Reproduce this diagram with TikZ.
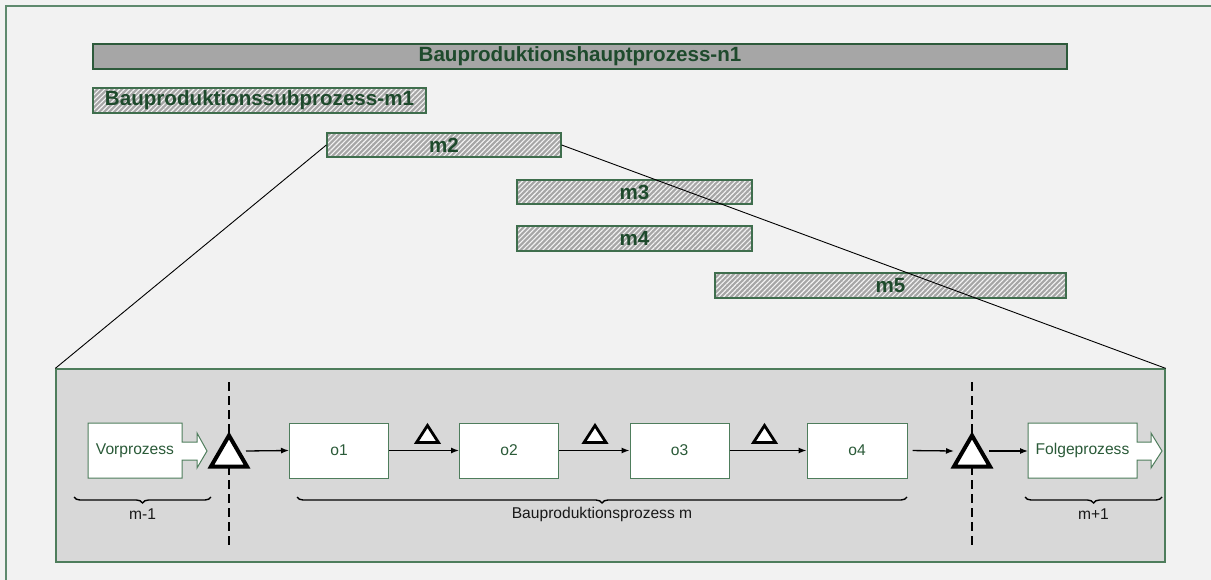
\documentclass[tikz,border=0pt]{standalone}
\usepackage{fontspec}
\setmainfont{Liberation Sans}
\usetikzlibrary{arrows.meta,patterns.meta,decorations.pathreplacing}

\definecolor{bgcol}{HTML}{F2F2F2}
\definecolor{framecol}{HTML}{5F8A6E}
\definecolor{darktxt}{HTML}{1E4A2C}
\definecolor{barline}{HTML}{2D5A3B}
\definecolor{hatchline}{HTML}{3F6E4D}
\definecolor{barfill}{HTML}{A6A6A6}
\definecolor{hatchcol}{HTML}{F4F4F4}
\definecolor{boxline}{HTML}{4E7D5C}
\definecolor{boxtxt}{HTML}{2A5A38}
\definecolor{panelfill}{HTML}{D8D8D8}

\tikzset{
  bartext/.style={font=\bfseries\fontsize{20.6}{24}\selectfont, text=darktxt},
  solidbar/.style={draw=barline, line width=1.4pt, fill=barfill, inner sep=0pt, bartext},
  hatchbar/.style={draw=hatchline, line width=1.3pt, inner sep=0pt,
    preaction={fill=barfill},
    pattern={Lines[angle=45,distance=3.5pt,line width=1.1pt]}, pattern color=hatchcol, bartext},
  proctext/.style={font=\fontsize{15.6}{18}\selectfont, text=boxtxt, inner sep=0pt},
  procbox/.style={draw=boxline, line width=1pt, fill=white, inner sep=0pt,
    minimum width=99, minimum height=55, proctext},
  outline/.style={draw=boxline, line width=1pt, fill=white, line join=miter},
  flow/.style={line width=1.3pt, -{Latex[length=8pt,width=6pt]}},
  bigtri/.style={draw=black, line width=4pt, fill=white, line join=miter},
  smalltri/.style={draw=black, line width=2.8pt, fill=white, line join=miter},
  trislot/.style={inner sep=0pt, outer sep=0pt},
  cutline/.style={line width=2.2pt, dash pattern=on 9pt off 5pt},
  bracepath/.style={line width=1.4pt, decorate,
    decoration={brace, mirror, amplitude=6pt}},
  bracelabel/.style={font=\fontsize{15.6}{18}\selectfont, text=black!90},
  zoomline/.style={line width=0.9pt, black},
}

\begin{document}
\begin{tikzpicture}[x=1pt,y=-1pt]
  % canvas and outer frame
  \useasboundingbox (0,0) rectangle (1211,580);
  \clip (0,0) rectangle (1211,580);
  \fill[bgcol] (0,0) rectangle (1211,580);
  \draw[framecol, line width=1.5pt] (6,6) rectangle (1240,610);

  % process hierarchy bars
  \node[solidbar, minimum width=974, minimum height=25] (main) at (580,56.5) {Bauproduktionshauptprozess-n1};
  \node[hatchbar, minimum width=333, minimum height=25] (m1) at (259.5,100.5) {Bauproduktionssubprozess-m1};
  \node[hatchbar, minimum width=234, minimum height=24] (m2) at (444,145) {m2};
  \node[hatchbar, minimum width=235, minimum height=24] (m3) at (634.5,192) {m3};
  \node[hatchbar, minimum width=235, minimum height=25] (m4) at (634.5,238.5) {m4};
  \node[hatchbar, minimum width=351, minimum height=25] (m5) at (890.5,285.5) {m5};

  % detail panel for m2
  \node[draw=boxline, line width=1.3pt, fill=panelfill, minimum width=1109, minimum height=193, inner sep=0pt] (panel) at (610.5,465.5) {};
  \draw[zoomline] (m2.west) -- (panel.north west);
  \draw[zoomline] (m2.east) -- (panel.north east);

  % process boundaries
  \coordinate (cutAtop) at (229,382);
  \coordinate (cutAbot) at (229,548);
  \coordinate (cutBtop) at (972,382);
  \coordinate (cutBbot) at (972,548);
  \draw[cutline] (cutAtop) -- (cutAbot);
  \draw[cutline] (cutBtop) -- (cutBbot);

  % preceding and following process (arrow-shaped boxes)
  \draw[outline] (88,423) -- (182,423) -- (182,442) -- (197,442) -- (197,433) -- (207,451)
    -- (197,468) -- (197,460) -- (182,460) -- (182,478) -- (88,478) -- cycle;
  \node[proctext] (vor) at (135,450.5) {Vorprozess};
  \draw[outline] (1028,423) -- (1137,423) -- (1137,442) -- (1151,442) -- (1151,433) -- (1162,451)
    -- (1151,468) -- (1151,460) -- (1137,460) -- (1137,478) -- (1028,478) -- cycle;
  \node[proctext] (folge) at (1082.5,450.5) {Folgeprozess};
  \coordinate (folgein) at (1028,451);

  % operations
  \node[procbox] (o1) at (339,450.5) {o1};
  \node[procbox] (o2) at (509,450.5) {o2};
  \node[procbox] (o3) at (679.5,450.5) {o3};
  \node[procbox, minimum width=100] (o4) at (857,450.5) {o4};

  % interfaces (large triangles)
  \node[trislot, minimum width=36, minimum height=31] (t1) at (229,451) {};
  \node[trislot, minimum width=36, minimum height=31] (t2) at (972,451) {};
  \draw[bigtri] (t1.south west) -- (t1.north) -- (t1.south east) -- cycle;
  \draw[bigtri] (t2.south west) -- (t2.north) -- (t2.south east) -- cycle;

  % small interface triangles between operations
  \node[trislot, minimum width=22, minimum height=17] (d1) at (427.5,434) {};
  \node[trislot, minimum width=22, minimum height=17] (d2) at (595,434) {};
  \node[trislot, minimum width=22, minimum height=17] (d3) at (764.5,434) {};
  \foreach \d in {d1,d2,d3}
    \draw[smalltri] (\d.south west) -- (\d.north) -- (\d.south east) -- cycle;

  % flow arrows
  \draw[flow] ([xshift=-1pt]t1.east) -- (o1.west);
  \draw[flow] (o1.east) -- (o2.west);
  \draw[flow] (o2.east) -- (o3.west);
  \draw[flow] (o3.east) -- (o4.west);
  \draw[flow, shorten <=5pt] (o4.east) -- (t2.west);
  \draw[flow] ([xshift=-1pt]t2.east) -- (folgein);

  % braces and their labels
  \coordinate (b1a) at (74,497);   \coordinate (b1b) at (211,497);
  \coordinate (b2a) at (297,497);  \coordinate (b2b) at (907,497);
  \coordinate (b3a) at (1025,497); \coordinate (b3b) at (1162,497);
  \draw[bracepath] (b1a) -- (b1b);
  \draw[bracepath] (b2a) -- (b2b);
  \draw[bracepath] (b3a) -- (b3b);
  \node[bracelabel] (l1) at (142.5,514) {m-1};
  \node[bracelabel] (l2) at (602,514) {Bauproduktionsprozess m};
  \node[bracelabel] (l3) at (1093.5,514) {m+1};
\end{tikzpicture}
\end{document}
